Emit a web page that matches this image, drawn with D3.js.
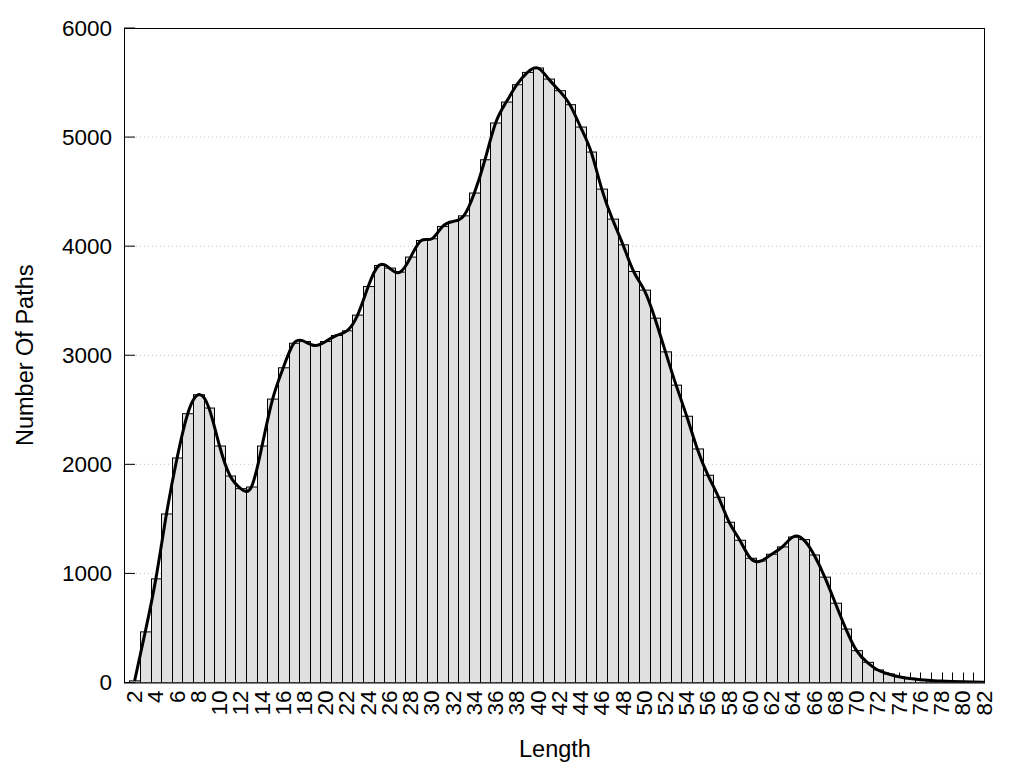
<!DOCTYPE html>
<html>
<head>
<meta charset="utf-8">
<script src="https://cdn.jsdelivr.net/npm/d3@7"></script>
<style>
  html, body { margin: 0; padding: 0; background: #fff; }
  svg { display: block; font-family: "Liberation Sans", Arial, sans-serif; }
</style>
</head>
<body>
<svg id="chart" width="1024" height="768"></svg>
<script>
// ---- data ----
const lengths = [2,3,4,5,6,7,8,9,10,11,12,13,14,15,16,17,18,19,20,21,22,23,24,25,26,27,28,29,30,31,32,33,34,35,36,37,38,39,40,41,42,43,44,45,46,47,48,49,50,51,52,53,54,55,56,57,58,59,60,61,62,63,64,65,66,67,68,69,70,71,72,73,74,75,76,77,78,79,80,81,82];
const counts = [15,464,950,1545,2058,2464,2638,2516,2168,1893,1777,1792,2168,2598,2885,3110,3126,3089,3126,3181,3224,3368,3630,3823,3799,3762,3900,4052,4068,4181,4227,4278,4487,4792,5129,5321,5480,5593,5633,5532,5425,5297,5092,4863,4523,4248,4012,3768,3597,3340,3031,2726,2441,2141,1900,1698,1469,1304,1139,1114,1176,1243,1334,1310,1169,966,727,490,292,185,115,78,52,36,26,19,13,9,6,4,2];
const xTickLabels = [2,4,6,8,10,12,14,16,18,20,22,24,26,28,30,32,34,36,38,40,42,44,46,48,50,52,54,56,58,60,62,64,66,68,70,72,74,76,78,80,82];
const yTickValues = [0,1000,2000,3000,4000,5000,6000];
const xTitle = "Length";
const yTitle = "Number Of Paths";

// ---- layout ----
const pL = 124, pR = 984, pT = 28, pB = 682.5;
const svg = d3.select("#chart");

const x = d3.scaleLinear().domain([1, 82]).range([pL, pR]);
const y = d3.scaleLinear().domain([0, 6000]).range([pB, pT]);
const bw = x(1) - x(0);

const data = lengths.map((l, i) => ({ l, v: counts[i] }));

svg.append("defs").append("clipPath").attr("id", "clip")
  .append("rect").attr("x", pL).attr("y", pT).attr("width", pR - pL).attr("height", pB - pT);

// grid lines (dotted)
svg.append("g").selectAll("line").data(yTickValues.filter(d => d > 0 && d < 6000)).join("line")
  .attr("x1", pL).attr("x2", pR)
  .attr("y1", d => y(d)).attr("y2", d => y(d))
  .attr("stroke", "#c4c4c4").attr("stroke-width", 1).attr("stroke-dasharray", "1,3");

// x ticks (inward, behind bars)
svg.append("g").selectAll("line").data(lengths).join("line")
  .attr("x1", d => Math.round(x(d)) + 0.5).attr("x2", d => Math.round(x(d)) + 0.5)
  .attr("y1", pB).attr("y2", pB - 10)
  .attr("stroke", "#000").attr("stroke-width", 1);

// y ticks (inward)
svg.append("g").selectAll("line").data(yTickValues).join("line")
  .attr("x1", pL).attr("x2", pL + 11)
  .attr("y1", d => y(d)).attr("y2", d => y(d))
  .attr("stroke", "#000").attr("stroke-width", 1);

// bars
const plot = svg.append("g").attr("clip-path", "url(#clip)");
plot.append("g").selectAll("rect").data(data).join("rect")
  .attr("x", d => Math.round(x(d.l) - bw / 2) + 0.5)
  .attr("width", d => Math.round(x(d.l) + bw / 2) - Math.round(x(d.l) - bw / 2))
  .attr("y", d => y(d.v))
  .attr("height", d => y(0) - y(d.v))
  .attr("fill", "#e0e0e0").attr("stroke", "#000").attr("stroke-width", 1);

// smooth curve
const line = d3.line().x(d => x(d.l)).y(d => y(d.v)).curve(d3.curveNatural);
plot.append("path").datum(data).attr("d", line)
  .attr("fill", "none").attr("stroke", "#000").attr("stroke-width", 3)
  .attr("stroke-linejoin", "round");

// border
svg.append("rect").attr("x", pL + 0.5).attr("y", pT + 0.5)
  .attr("width", pR - pL).attr("height", pB - pT)
  .attr("fill", "none").attr("stroke", "#000").attr("stroke-width", 1);

// y tick labels
svg.append("g").selectAll("text").data(yTickValues).join("text")
  .attr("x", 112).attr("y", d => y(d))
  .attr("text-anchor", "end").attr("dominant-baseline", "central")
  .attr("font-size", 22.5).text(d => d);

// x tick labels (rotated)
svg.append("g").selectAll("text").data(xTickLabels).join("text")
  .attr("transform", d => `translate(${x(d)},${pB + 8}) rotate(-90)`)
  .attr("text-anchor", "end").attr("dominant-baseline", "central")
  .attr("font-size", 22.5).text(d => d);

// axis titles
svg.append("text").attr("x", 555).attr("y", 757)
  .attr("text-anchor", "middle").attr("font-size", 23.5).text(xTitle);
svg.append("text")
  .attr("transform", `translate(33,${(pT + pB) / 2}) rotate(-90)`)
  .attr("text-anchor", "middle").attr("font-size", 23.5).text(yTitle);
</script>
</body>
</html>
